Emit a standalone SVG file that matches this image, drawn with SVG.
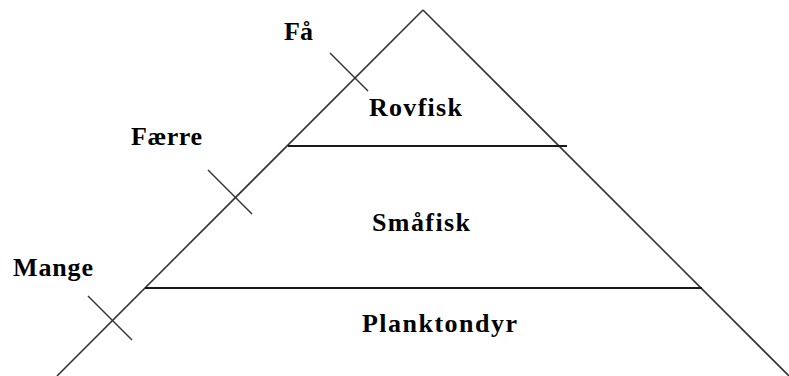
<svg xmlns="http://www.w3.org/2000/svg" width="789" height="376" viewBox="0 0 789 376">
  <style>
    .edge { stroke: #333; stroke-width: 1.6; fill: none; }
    .level { stroke: #1a1a1a; stroke-width: 2; fill: none; }
    .tick { stroke: #333; stroke-width: 1.4; fill: none; }
    .lbl { font-family: "Liberation Serif", "Times New Roman", serif; font-weight: bold; font-size: 26px; fill: #000; }
  </style>
  <rect width="789" height="376" fill="#fff"/>
  <g id="connectors">
    <line class="edge" x1="423" y1="10" x2="57" y2="376"/>
    <line class="edge" x1="423" y1="10" x2="789" y2="376"/>
    <line class="level" x1="288" y1="146" x2="567" y2="146"/>
    <line class="level" x1="145" y1="288" x2="702" y2="288"/>
    <line class="tick" x1="330" y1="53" x2="368" y2="91"/>
    <line class="tick" x1="208" y1="170" x2="252" y2="214"/>
    <line class="tick" x1="88" y1="296" x2="132" y2="340"/>
  </g>
  <g id="rovfisk"><text class="lbl" x="369" y="116" textLength="93" lengthAdjust="spacing">Rovfisk</text></g>
  <g id="smaafisk"><text class="lbl" x="372" y="231" textLength="98" lengthAdjust="spacing">Småfisk</text></g>
  <g id="planktondyr"><text class="lbl" x="362" y="332" textLength="155" lengthAdjust="spacing">Planktondyr</text></g>
  <g id="faa"><text class="lbl" x="284" y="40" textLength="29" lengthAdjust="spacing">Få</text></g>
  <g id="faerre"><text class="lbl" x="131" y="145" textLength="71" lengthAdjust="spacing">Færre</text></g>
  <g id="mange"><text class="lbl" x="13" y="276" textLength="80" lengthAdjust="spacing">Mange</text></g>
</svg>
